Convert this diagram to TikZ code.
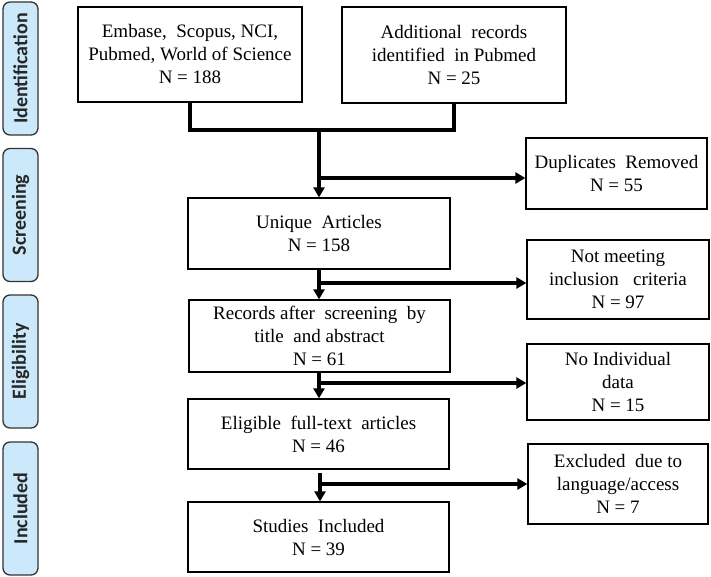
\documentclass[tikz,border=0pt]{standalone}
\usepackage{fontspec}
\setmainfont{Liberation Serif}
\newfontfamily\sidefont{Carlito}
\usetikzlibrary{arrows.meta}
\begin{document}
\begin{tikzpicture}[x=1pt,y=-1pt,
  box/.style={draw=black, line width=1.3pt, align=center, inner sep=0pt,
    font=\fontsize{19}{23}\selectfont},
  side/.style={draw=black!80, line width=1.3pt, fill=sideblue, rounded corners=7pt,
    minimum width=35pt, minimum height=133pt, inner sep=0pt},
  sidetext/.style={rotate=90, font=\sidefont\bfseries\fontsize{20}{22}\selectfont, text=black!85},
  conn/.style={line width=3.2pt},
  arr/.style={line width=3.2pt, -{Triangle[length=10pt,width=11pt]}, shorten >=0pt}]
\definecolor{sideblue}{HTML}{CCE9FC}
\useasboundingbox (0,0) rectangle (711,577);
% side labels
\node[side] (s1) at (20.5,68.5) {};
\node[sidetext] (t1) at (s1.center) {Identification};
\node[side] (s2) at (20.5,215) {};
\node[sidetext] (t2) at (s2.center) {Screening};
\node[side] (s3) at (20.5,361.5) {};
\node[sidetext] (t3) at (s3.center) {Eligibility};
\node[side] (s4) at (20.5,508.5) {};
\node[sidetext] (t4) at (s4.center) {Included};
% main boxes
\node[box, minimum width=224pt, minimum height=95pt] (e1) at (190,54.5) {Embase,\ \ Scopus, NCI,\\Pubmed,\ World\ of\ Science\\N = 188};
\node[box, minimum width=224pt, minimum height=96pt] (e2) at (454,55) {Additional\ \ records\\identified\ \ in Pubmed\\N = 25};
\node[box, minimum width=262pt, minimum height=71pt] (u) at (319,233.5) {Unique\ \ Articles\\N = 158};
\node[box, minimum width=261pt, minimum height=72pt] (r) at (319.5,336) {Records after\ \ screening\ \ by\\title\ \ and abstract\\N = 61};
\node[box, minimum width=261pt, minimum height=70pt] (el) at (318.5,434) {Eligible\ \ full-text\ \ articles\\N = 46};
\node[box, minimum width=261pt, minimum height=70pt] (st) at (318.5,537) {Studies\ \ Included\\N = 39};
% side boxes
\node[box, minimum width=181pt, minimum height=71pt] (d) at (616.5,173.5) {Duplicates\ \ Removed\\N = 55};
\node[box, minimum width=182pt, minimum height=79pt] (nm) at (618,279.5) {Not meeting\\inclusion\ \ \ criteria\\N = 97};
\node[box, minimum width=182pt, minimum height=76pt] (ni) at (618,382) {No Individual\\data\\N = 15};
\node[box, minimum width=180pt, minimum height=80pt] (ex) at (618,484) {Excluded\ \ due to\\language/access\\N = 7};
% connectors
\coordinate (m) at (319,130);
\coordinate (b1) at (319,178);
\coordinate (b2) at (319,283);
\coordinate (b3) at (319,383);
\coordinate (b4) at (320,484);
\draw[conn] (e1.south) |- (m);
\draw[conn] (e2.south) |- (m);
\draw[arr] (m) -- (u.north);
\draw[arr] (b1) -- (b1 -| d.west);
\draw[arr] (u.south -| b2) -- (r.north -| b2);
\draw[arr] (b2) -- (b2 -| nm.west);
\draw[arr] (r.south -| b3) -- (el.north -| b3);
\draw[arr] (b3) -- (b3 -| ni.west);
\coordinate (b4top) at (320,473);
\draw[arr] (b4top) -- (st.north -| b4);
\draw[arr] (b4) -- (b4 -| ex.west);
\end{tikzpicture}
\end{document}
